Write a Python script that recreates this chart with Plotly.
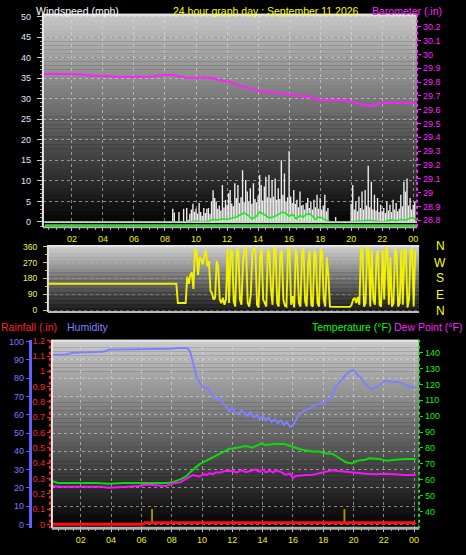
import plotly.graph_objects as go

W, H = 466, 555
FONT = "Liberation Sans"

# ---------------- data ----------------
hour_ticks = [2, 4, 6, 8, 10, 12, 14, 16, 18, 20, 22, 24]
hour_labels = ["02", "04", "06", "08", "10", "12", "14", "16", "18", "20", "22", "00"]

baro_ticks = [28.8, 28.9, 29.0, 29.1, 29.2, 29.3, 29.4, 29.5, 29.6, 29.7, 29.8, 29.9, 30.0, 30.1, 30.2]
rain_ticks = [0, 0.1, 0.2, 0.3, 0.4, 0.5, 0.6, 0.7, 0.8, 0.9, 1.0, 1.1, 1.2]
dir_ticks = [0, 90, 180, 270, 360]
compass = ["N", "W", "S", "E", "N"]

baro_hours = [0.15, 1.0, 2.5, 3.4, 4.0, 5.1, 6.2, 6.8, 7.2, 7.9, 8.5, 9.4, 10.9, 11.5, 12.2, 12.35,
              13.0, 13.8, 14.5, 15.6, 16.7, 17.5, 18.1, 18.8, 19.6, 20.1, 20.9, 21.6, 21.9, 23.1, 24.1]
baro_values = [29.86, 29.86, 29.857, 29.845, 29.845, 29.836, 29.836, 29.84, 29.84, 29.85, 29.85, 29.83,
               29.83, 29.815, 29.80, 29.79, 29.77, 29.74, 29.73, 29.717, 29.70, 29.686, 29.67, 29.67,
               29.67, 29.655, 29.63, 29.63, 29.65, 29.65, 29.65]

gust_start, gust_step = 8.5, 0.1
gust_values = [3.2, 2.3, 0, 0, 2.4, 0, 0, 3.2, 0, 3.4,
               0.5, 2.0, 3.0, 4.4, 2.5, 3.2, 2.0, 4.6, 2.4, 1.5,
               3.4, 2.2, 3.2, 3.4, 2.0, 5.0, 7.7, 5.8, 5.0, 3.2,
               4.0, 2.8, 9.0, 3.5, 5.4, 4.2, 7.0, 7.8, 4.5, 3.8,
               9.4, 5.8, 9.0, 4.6, 6.0, 12.6, 4.8, 10.2, 7.4, 5.0,
               8.2, 4.4, 9.4, 5.6, 4.8, 6.4, 11.4, 9.0, 5.2, 8.6,
               11.0, 6.0, 11.4, 5.8, 10.2, 6.2, 10.6, 5.4, 8.2, 5.6,
               15.0, 6.6, 11.8, 5.0, 6.0, 17.2, 6.2, 4.6, 7.8, 4.4,
               5.4, 3.6, 7.4, 4.0, 4.2, 3.0, 4.6, 5.8, 3.4, 5.0,
               3.0, 5.4, 3.6, 6.6, 3.2, 5.8, 3.0, 4.0, 6.6, 2.6,
               3.4, 0, 0, 0, 0, 1.2, 0, 0, 0, 0,
               0, 0, 0, 0, 0, 4.4, 9.0, 3.0, 5.0, 2.6,
               6.2, 3.4, 7.4, 3.0, 7.8, 4.0, 13.7, 3.6, 9.8, 3.0,
               6.6, 2.8, 5.8, 2.4, 4.2, 2.6, 3.4, 2.2, 5.0, 2.8,
               4.2, 2.4, 5.4, 3.0, 4.6, 2.6, 3.2, 6.6, 3.8, 9.8,
               7.4, 10.6, 4.0, 5.8, 3.0, 4.2, 5.0]
gust_hours = [round(gust_start + gust_step * i, 2) for i in range(len(gust_values))]

avg_hours = [0, 9.5, 10.0, 10.5, 10.9, 11.1, 11.4, 11.7, 12.0, 12.3, 12.6, 12.9, 13.1, 13.4, 13.6,
             13.9, 14.1, 14.4, 14.7, 15.0, 15.3, 15.6, 15.8, 16.0, 16.2, 16.45, 16.7, 16.9, 17.1, 17.3,
             17.5, 17.7, 17.9, 18.1, 18.3, 18.5, 18.7, 19.9, 20.2, 20.5, 20.8, 21.1, 21.4, 21.7, 22.0,
             22.3, 22.6, 22.9, 23.2, 23.5, 23.8, 24.0, 24.1]
avg_values = [0, 0, 0.2, 0, 0.3, 0.6, 0.5, 0.7, 0.6, 0.9, 1.2, 1.8, 2.2, 1.5, 0.7,
              1.4, 2.4, 1.8, 1.0, 1.2, 1.8, 2.4, 2.0, 1.4, 1.8, 0.8, 1.5, 1.2, 1.8, 2.0,
              1.4, 0.6, 1.2, 1.0, 0.5, 0.2, 0, 0, 0.2, 0.3, 0.2, 0.4, 0.3, 0.2, 0,
              0.2, 0.5, 0.3, 0.6, 0.4, 0.9, 1.0, 0.6]

dir_calm_hours = [0.3, 8.7]
dir_calm_values = [150, 150]
dir_start, dir_step = 8.8, 0.1
dir_values = [40, 38, 40, 40, 42, 40, 190, 150, 200, 215,
              120, 345, 340, 200, 300, 290, 260, 300, 345, 250,
              280, 110, 95, 60, 70, 280, 250, 60, 40, 70,
              30, 60, 350, 40, 345, 330, 50, 20, 350, 340,
              60, 30, 280, 345, 350, 40, 20, 90, 330, 355,
              340, 30, 15, 300, 350, 60, 40, 20, 345, 330,
              120, 30, 350, 355, 40, 20, 320, 340, 60, 25,
              20, 355, 345, 30, 80, 15, 350, 290, 40, 20,
              330, 355, 50, 20, 270, 340, 30, 20, 340, 310,
              40, 20, 350, 330, 60, 20, 300, 200, 20, 18,
              18, 18, 18, 18, 18, 18, 18, 18, 18, 18,
              20, 18, 30, 60, 70, 40, 75, 30, 345, 350,
              20, 40, 355, 350, 20, 340, 60, 30, 300, 340,
              30, 20, 340, 60, 350, 355, 30, 300, 20, 40,
              355, 320, 20, 40, 345, 30, 350, 340, 15, 60,
              340, 350, 20, 340]
dir_hours = dir_calm_hours + [round(dir_start + dir_step * i, 2) for i in range(len(dir_values))]
dir_all = dir_calm_values + dir_values

hum_hours = [0.15, 0.5, 1.0, 1.5, 2.0, 2.5, 3.0, 3.5, 3.9, 4.5, 5.5, 6.5, 7.5, 7.9, 8.5, 9.0, 9.2, 9.35,
             9.5, 9.65, 9.8, 10.0, 10.2, 10.4, 10.6, 10.8, 11.0, 11.2, 11.4, 11.6, 11.8, 12.0, 12.2,
             12.4, 12.6, 12.8, 13.0, 13.2, 13.4, 13.6, 13.8, 14.0, 14.2, 14.4, 14.6, 14.8, 15.0, 15.2,
             15.4, 15.6, 15.8, 16.0, 16.2, 16.4, 16.6, 16.8, 17.0, 17.3, 17.7, 18.0, 18.4, 18.6, 18.8,
             19.1, 19.5, 19.8, 20.0, 20.25, 20.5, 20.8, 21.0, 21.25, 21.6, 22.1, 22.5, 23.0, 23.5, 24.1]
hum_values = [92.8, 93.0, 93.0, 94.0, 94.0, 94.2, 94.4, 94.6, 95.7, 95.8, 95.8, 96.0, 96.0, 96.2, 96.6,
              96.6, 95.0, 90.0, 84.0, 80.5, 78.5, 76.0, 74.5, 75.0, 72.0, 70.0, 68.0, 69.0, 66.0, 64.5,
              62.0, 64.0, 61.0, 60.5, 62.5, 61.0, 59.5, 61.5, 58.5, 60.0, 57.5, 59.5, 57.0, 58.5, 56.0,
              57.5, 55.5, 57.0, 54.5, 56.0, 53.5, 54.0, 57.5, 60.5, 61.5, 62.5, 63.0, 64.5, 66.0, 66.5,
              68.6, 71.0, 75.0, 78.0, 82.0, 84.0, 84.5, 82.0, 80.0, 76.7, 75.0, 74.0, 75.5, 78.6, 78.0,
              78.0, 76.0, 74.6]

temp_hours = [0.15, 0.5, 1.0, 2.0, 3.0, 3.9, 4.8, 6.0, 7.0, 7.7, 8.1, 8.6, 9.0, 9.2, 9.5, 9.84, 10.2,
              10.7, 11.2, 11.8, 12.0, 12.5, 12.9, 13.3, 13.6, 13.9, 14.2, 14.6, 14.9, 15.5, 16.0, 16.3,
              16.6, 17.0, 17.3, 17.7, 18.1, 18.6, 19.0, 19.5, 19.9, 20.25, 20.8, 21.0, 21.7, 22.2,
              22.75, 23.4, 24.1]
temp_values = [59, 58, 58, 58, 58, 57.4, 58, 58, 58, 58, 58.5, 60.4, 62.5, 64.6, 67, 69.8, 71.5, 74,
               76.6, 79.5, 79.7, 80.5, 81.2, 80.2, 81.5, 82.7, 81.9, 82.5, 82.7, 82.3, 81, 79.8, 78.8,
               78, 77.7, 77.7, 76.6, 76.4, 74, 71, 70.2, 71.9, 72.5, 73.5, 73, 72, 72.5, 73, 73]

dew_hours = [0.15, 0.5, 2.0, 3.25, 3.9, 5.0, 5.9, 6.3, 7.0, 7.6, 8.1, 8.6, 9.0, 9.4, 9.6, 9.84, 10.1,
             10.3, 10.5, 10.7, 10.9, 11.2, 11.5, 11.8, 12.0, 12.3, 12.6, 12.9, 13.2, 13.5, 13.8, 14.0,
             14.2, 14.5, 14.7, 14.9, 15.2, 15.5, 15.8, 16.0, 16.2, 16.4, 16.8, 17.3, 17.7, 18.1, 18.6,
             19.0, 19.5, 20.0, 20.8, 21.5, 22.1, 22.6, 23.0, 23.5, 24.1]
dew_values = [56.0, 55.6, 55.6, 55.6, 55.0, 55.5, 56.0, 57.0, 56.5, 56.0, 57.7, 58.5, 60.8, 63.0, 62.5,
              62.0, 63.5, 63.0, 64.0, 63.5, 64.5, 64.5, 65.5, 65.6, 65.6, 64.5, 66.0, 64.8, 65.5, 66.4,
              65.0, 66.5, 64.6, 65.8, 64.5, 66.0, 65.0, 63.2, 63.8, 61.0, 62.5, 62.5, 63.0, 63.2, 64.0,
              64.8, 66.0, 65.5, 64.8, 64.5, 63.8, 63.5, 63.8, 63.5, 63.2, 63.0, 63.2]

rain_hours = [0.15, 6.1, 6.25, 24.0, 24.1]
rain_values = [0, 0, 0.01, 0.01, 0]

rate_hours = [6.7, 19.4]
rate_values = [0.1, 0.1]


# ---------------- helpers ----------------
def px(x):
    return x / W


def py(y):
    return 1 - y / H


TOP = dict(x0=43, x1=418, y0=10, y1=226)
DIRP = dict(x0=48, x1=420, y0=244, y1=312)
BOT = dict(x0=52, x1=420, y0=340, y1=531)

shapes = []


def gradient(p, top, bot, n):
    h = (p["y1"] - p["y0"]) / n
    for i in range(n):
        f = (i + 0.5) / n
        g = int(round(top + (bot - top) * f))
        shapes.append(dict(type="rect", xref="paper", yref="paper", layer="below",
                           x0=px(p["x0"]), x1=px(p["x1"]),
                           y0=py(p["y0"] + h * (i + 1) + 0.3), y1=py(p["y0"] + h * i),
                           line=dict(width=0), fillcolor=f"rgb({g},{g},{g})"))
    shapes.append(dict(type="line", xref="paper", yref="paper", layer="below",
                       x0=px(p["x0"]), x1=px(p["x1"]), y0=py(p["y0"] + 1), y1=py(p["y0"] + 1),
                       line=dict(color="#e6e6e6", width=2)))


def pline(x0, y0, x1, y1, color, width, dash="solid"):
    shapes.append(dict(type="line", xref="paper", yref="paper", layer="above",
                       x0=px(x0), x1=px(x1), y0=py(y0), y1=py(y1),
                       line=dict(color=color, width=width, dash=dash)))


gradient(TOP, 200, 0, 54)
gradient(DIRP, 212, 22, 17)
gradient(BOT, 204, 0, 48)

# frames / axis lines
pline(43, 10, 43, 226, "#e8e8e8", 2)
pline(43, 226, 418, 226, "#b8b8b8", 2)
pline(45, 224, 418, 224, "#30e030", 2)
pline(45, 221, 418, 221, "#cfcfcf", 1.5)
pline(418, 10, 418, 226, "#ff30ff", 2, "dot")
pline(48, 244, 48, 312, "#e0e0e0", 2)
pline(48, 312, 420, 312, "#b8b8b8", 2)
pline(52, 340, 52, 531, "#e8e8e8", 2)
pline(52, 531, 420, 531, "#b0b0b0", 3)
pline(50, 340, 50, 531, "#ff2020", 2, "dot")
pline(420, 340, 420, 531, "#20e020", 2, "dot")

# ---------------- traces ----------------
fig = go.Figure()
fig.add_trace(go.Bar(x=gust_hours, y=gust_values, width=0.09,
                     marker=dict(color="#ececec", line=dict(width=0)), xaxis="x", yaxis="y"))
fig.add_trace(go.Scatter(x=avg_hours, y=avg_values, mode="lines",
                         line=dict(color="#22e622", width=1.6),
                         fill="tozeroy", fillcolor="rgba(190,255,190,0.45)", xaxis="x", yaxis="y"))
fig.add_trace(go.Scatter(x=baro_hours, y=baro_values, mode="lines",
                         line=dict(color="#ff20ff", width=2), xaxis="x", yaxis="y2"))
fig.add_trace(go.Scatter(x=dir_hours, y=dir_all, mode="lines",
                         line=dict(color="#f2f200", width=1.9), xaxis="x2", yaxis="y3"))
fig.add_trace(go.Bar(x=rate_hours, y=rate_values, width=0.12,
                     marker=dict(color="#a89a00", line=dict(width=0)), xaxis="x3", yaxis="y5"))
fig.add_trace(go.Scatter(x=hum_hours, y=hum_values, mode="lines",
                         line=dict(color="#8080ff", width=2), xaxis="x3", yaxis="y4"))
fig.add_trace(go.Scatter(x=temp_hours, y=temp_values, mode="lines",
                         line=dict(color="#10d810", width=2), xaxis="x3", yaxis="y6"))
fig.add_trace(go.Scatter(x=dew_hours, y=dew_values, mode="lines",
                         line=dict(color="#ff10ff", width=2), xaxis="x3", yaxis="y6"))
fig.add_trace(go.Scatter(x=rain_hours, y=rain_values, mode="lines",
                         line=dict(color="#ff1010", width=3), xaxis="x3", yaxis="y5"))

GRID = dict(showgrid=True, gridcolor="rgba(225,225,225,0.55)", griddash="dot", gridwidth=1)


def tf(color, size=9):
    return dict(family=FONT, size=size, color=color)


annotations = []


def label(text, x, y, color, size=10.5):
    annotations.append(dict(text=text, x=px(x), y=py(y), xref="paper", yref="paper",
                            xanchor="left", yanchor="middle", showarrow=False,
                            font=dict(family=FONT, size=size, color=color)))


label("Windspeed (mph)", 34, 7, "#ffffff")
label("24 hour graph day : September 11 2026", 171, 7, "#ffff00")
label("Barometer (.in)", 371, 7, "#ff20ff")
label("Rainfall (.in)", -1, 327, "#ff2020")
label("Humidity", 65, 327, "#8080ff")
label("Temperature (°F)", 311, 327, "#00ff00")
label("Dew Point (°F)", 393, 327, "#ff20ff")
for t, yy in zip(compass, [245, 262, 278, 295, 311]):
    annotations.append(dict(text=t, x=px(441), y=py(yy), xref="paper", yref="paper",
                            xanchor="center", yanchor="middle", showarrow=False,
                            font=dict(family=FONT, size=12, color="#ffff00")))

fig.update_layout(
    width=W, height=H, margin=dict(l=0, r=0, t=0, b=0),
    paper_bgcolor="#000000", plot_bgcolor="rgba(0,0,0,0)",
    showlegend=False, barmode="overlay",
    shapes=shapes, annotations=annotations,
    xaxis=dict(domain=[px(43), px(418)], range=[0.13, 24.25], anchor="y",
               tickvals=hour_ticks, ticktext=hour_labels, tickfont=tf("#f0f000"),
               ticks="outside", ticklen=3, tickcolor="#c0c0c0", zeroline=False,
               minor=dict(dtick=0.5, tick0=0, ticklen=2, tickcolor="#a0a0a0", showgrid=False),
               **GRID),
    yaxis=dict(domain=[py(226), py(10)], range=[-1.27, 50.65], anchor="x",
               tick0=0, dtick=5, tickfont=tf("#dfe8ff"), ticks="outside", ticklen=5,
               tickcolor="#c8c8c8", ticklabelstandoff=4, zeroline=False,
               minor=dict(dtick=1, tick0=0, ticklen=2, tickcolor="#a0a0a0", showgrid=False),
               **GRID),
    yaxis2=dict(overlaying="y", side="right", anchor="x", range=[28.75, 30.293],
                tickvals=baro_ticks, ticktext=[f"{v:g}" for v in baro_ticks],
                tickfont=tf("#ff20ff"), ticks="outside", ticklen=3, tickcolor="#ff20ff",
                showgrid=False, zeroline=False),
    xaxis2=dict(domain=[px(48), px(420)], range=[0.42, 24.35], anchor="y3",
                showticklabels=False, showgrid=False, zeroline=False, ticks=""),
    yaxis3=dict(domain=[py(312), py(244)], range=[-11.25, 371], anchor="x2",
                tickvals=dir_ticks, tickfont=tf("#f0f060", 8.5), ticks="outside", ticklen=4,
                tickcolor="#d8d800", ticklabelstandoff=4, zeroline=False,
                minor=dict(dtick=45, tick0=0, ticklen=2, tickcolor="#c8c800", showgrid=False),
                showgrid=True, gridcolor="rgba(200,200,200,0.35)", griddash="dot"),
    xaxis3=dict(domain=[px(52), px(420)], range=[0.09, 24.33], anchor="y4",
                tickvals=hour_ticks, ticktext=hour_labels, tickfont=tf("#f0f000"),
                ticks="outside", ticklen=3, tickcolor="#c0c0c0", zeroline=False,
                minor=dict(dtick=0.5, tick0=0, ticklen=2, tickcolor="#a0a0a0", showgrid=False),
                **GRID),
    yaxis4=dict(domain=[py(531), py(340)], range=[-2.16, 101.1], anchor="free", position=px(30),
                side="left", tick0=0, dtick=10, tickfont=tf("#7b7bff"), ticks="outside",
                ticklen=3, tickcolor="#6060ff", showline=True, linecolor="#6060ff", linewidth=3,
                zeroline=False, **GRID),
    yaxis5=dict(overlaying="y4", anchor="free", position=px(50), side="left",
                range=[-0.0258, 1.2065], tickvals=rain_ticks,
                ticktext=[f"{v:g}" for v in rain_ticks], tickfont=tf("#ff2020"),
                ticks="outside", ticklen=3, tickcolor="#ff2020", showgrid=False,
                zeroline=False, showline=False),
    yaxis6=dict(overlaying="y4", side="right", anchor="x3", range=[29.44, 148.1],
                tickvals=[40, 50, 60, 70, 80, 90, 100, 110, 120, 130, 140],
                tickfont=tf("#10ee10"), ticks="outside", ticklen=3, tickcolor="#10dd10",
                showgrid=False, zeroline=False),
)

fig.write_html("out.html", config={"displayModeBar": False, "staticPlot": True},
               post_script="document.body.style.margin='0px';document.body.style.padding='0px';")
